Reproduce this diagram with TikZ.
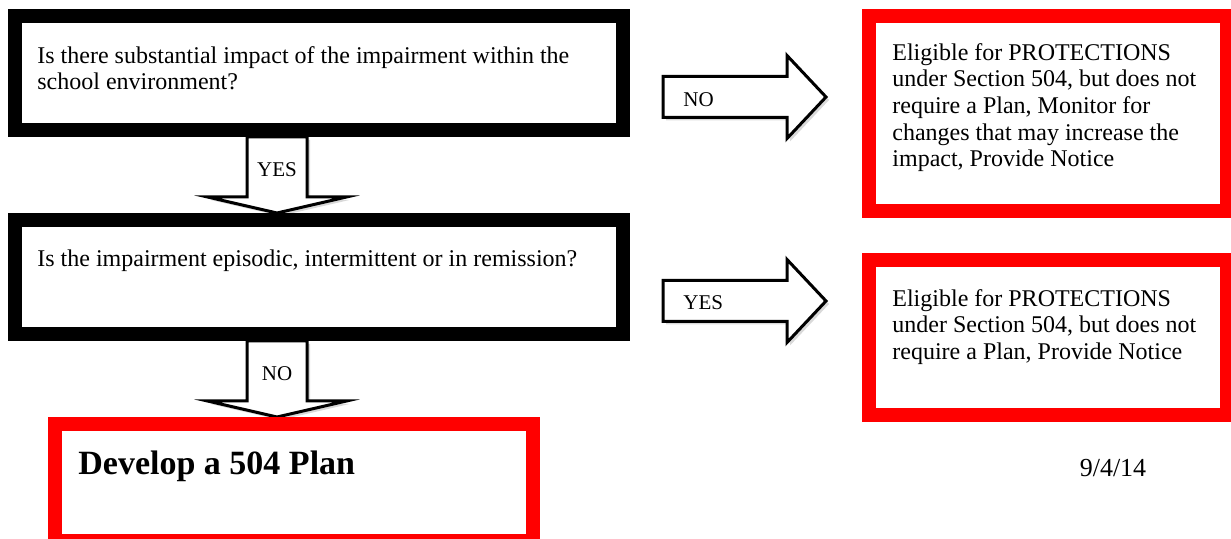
\documentclass[tikz,border=0pt]{standalone}
\usepackage{fontspec}
\setmainfont{Liberation Serif}
\usetikzlibrary{backgrounds,calc,shadows}
\newcommand{\boxRule}{7pt}
\newcommand{\shaftHalf}{30}
\newcommand{\headHalf}{69.5}
\newcommand{\headLength}{16}
\newcommand{\sideShaftHalf}{20.5}
\newcommand{\sideHeadHalf}{41.5}
\newcommand{\sideHeadLength}{39}
\newcommand{\sideLength}{163}

\tikzset{
  questionbox/.style={draw=black, line width=\boxRule, fill=white, inner sep=0pt},
  resultbox/.style={draw=red, line width=\boxRule, fill=white, inner sep=0pt},
  boxtext/.style={anchor=north west, inner sep=0pt, align=left, font=\fontsize{12}{13.3}\selectfont},
  arrowtext/.style={inner sep=0pt, font=\fontsize{10.5}{12}\selectfont},
  blockarrow/.style={draw=black, fill=white, line width=1.5pt, line join=miter,
    drop shadow={shadow xshift=1.5pt, shadow yshift=-1.5pt, opacity=0.3}}
}

\begin{document}
\begin{tikzpicture}[x=0.5pt, y=-0.5pt]
\useasboundingbox (0,0) rectangle (1231,539);

% questions
\node[questionbox, minimum width=304pt, minimum height=57pt] (q1) at (319,73) {};
\node[questionbox, minimum width=304pt, minimum height=57pt] (q2) at (319,277) {};
\node[boxtext] (q1text) at (37,46) {Is there substantial impact of the impairment within the\\school environment?};
\node[boxtext] (q2text) at (37,249) {Is the impairment episodic, intermittent or in remission?};

% outcomes
\node[resultbox, minimum width=239pt, minimum height=58.5pt] (plan) at (294,482.5) {};
\node[resultbox, minimum width=179pt, minimum height=97.5pt] (monitor) at (1048,113.5) {};
\node[resultbox, minimum width=179pt, minimum height=77.5pt] (notice) at (1048,337.5) {};
\node[boxtext, font=\fontsize{17}{19}\selectfont\bfseries] (plantext) at (78,451) {Develop a 504 Plan};
\node[boxtext] (monitortext) at (892,43) {Eligible for PROTECTIONS\\under Section 504, but does not\\require a Plan, Monitor for\\changes that may increase the\\impact, Provide Notice};
\node[boxtext] (noticetext) at (892,289) {Eligible for PROTECTIONS\\under Section 504, but does not\\require a Plan, Provide Notice};

\node[font=\fontsize{13}{15}\selectfont, inner sep=0pt] (date) at (1113,468) {9/4/14};

\coordinate (yesAxis) at (277,0);
\coordinate (noTail) at (663,97);
\coordinate (yesTail) at (663,301);

\begin{scope}[on background layer]
\draw[blockarrow] ($(yesAxis |- q1.south)+(-\shaftHalf,0)$) -- ($(yesAxis |- q2.north)+(-\shaftHalf,-\headLength)$)
  -- ++(\shaftHalf-\headHalf,0) -- (yesAxis |- q2.north) -- ++(\headHalf,-\headLength)
  -- ++(\shaftHalf-\headHalf,0) -- ($(yesAxis |- q1.south)+(\shaftHalf,0)$) -- cycle;
\draw[blockarrow] ($(yesAxis |- q2.south)+(-\shaftHalf,0)$) -- ($(yesAxis |- plan.north)+(-\shaftHalf,-\headLength)$)
  -- ++(\shaftHalf-\headHalf,0) -- (yesAxis |- plan.north) -- ++(\headHalf,-\headLength)
  -- ++(\shaftHalf-\headHalf,0) -- ($(yesAxis |- q2.south)+(\shaftHalf,0)$) -- cycle;
\draw[blockarrow] ($(noTail)+(0,-\sideShaftHalf)$) -- ++(\sideLength-\sideHeadLength,0)
  -- ++(0,\sideShaftHalf-\sideHeadHalf) -- ($(noTail)+(\sideLength,0)$) -- ++(-\sideHeadLength,\sideHeadHalf)
  -- ++(0,\sideShaftHalf-\sideHeadHalf) -- ($(noTail)+(0,\sideShaftHalf)$) -- cycle;
\draw[blockarrow] ($(yesTail)+(0,-\sideShaftHalf)$) -- ++(\sideLength-\sideHeadLength,0)
  -- ++(0,\sideShaftHalf-\sideHeadHalf) -- ($(yesTail)+(\sideLength,0)$) -- ++(-\sideHeadLength,\sideHeadHalf)
  -- ++(0,\sideShaftHalf-\sideHeadHalf) -- ($(yesTail)+(0,\sideShaftHalf)$) -- cycle;
\end{scope}

\node[arrowtext] (yesDown) at (277,170) {YES};
\node[arrowtext] (noDown) at (277,374) {NO};
\node[arrowtext, anchor=west] (noSide) at ($(noTail)+(20,3)$) {NO};
\node[arrowtext, anchor=west] (yesSide) at ($(yesTail)+(20,2)$) {YES};
\end{tikzpicture}
\end{document}
